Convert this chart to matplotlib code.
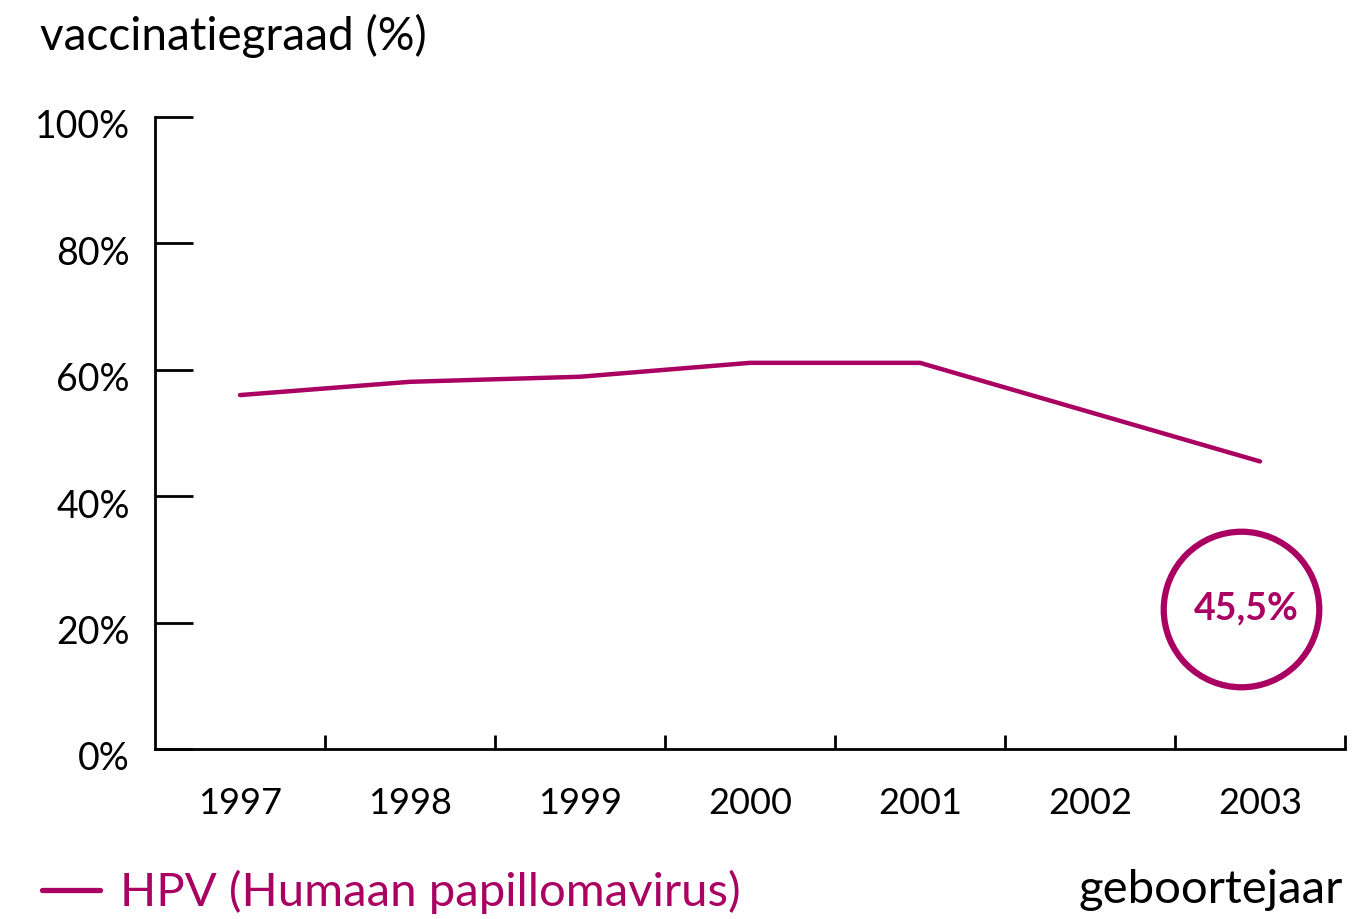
"""HPV vaccinatiegraad per geboortejaar."""
import matplotlib
matplotlib.use("Agg")
import matplotlib.pyplot as plt
from matplotlib.transforms import ScaledTranslation

plt.rcParams['font.family'] = ['Lato', 'DejaVu Sans']

# Data
YEARS = ['1997', '1998', '1999', '2000', '2001', '2002', '2003']
HPV = [56.0, 58.1, 58.9, 61.1, 61.1, 53.3, 45.5]
Y_TICKS = [0, 20, 40, 60, 80, 100]
Y_LABELS = ['0%', '20%', '40%', '60%', '80%', '100%']

VIOLET = '#a90061'
W, H = 1358, 919

fig = plt.figure(figsize=(W / 100, H / 100), dpi=100)
ax = fig.add_axes([155 / W, (H - 749) / H, 1190 / W, 632 / H])

xs = list(range(len(YEARS)))
ax.plot(xs, HPV, color=VIOLET, lw=3.2, solid_capstyle='round',
        label='HPV (Humaan papillomavirus)')

ax.set_xlim(-0.5, len(YEARS) - 0.5)
ax.set_ylim(0, 100)

for side in ('top', 'right'):
    ax.spines[side].set_visible(False)
for side in ('left', 'bottom'):
    ax.spines[side].set_linewidth(2)

ax.set_yticks(Y_TICKS)
ax.set_yticklabels(Y_LABELS)
ax.tick_params(axis='y', direction='in', length=27, width=2, pad=18,
               labelsize=27)
# labels sit a bit below their tick, like in the original
shift = ScaledTranslation(0, -7 / 100, fig.dpi_scale_trans)
for lab in ax.get_yticklabels():
    lab.set_transform(lab.get_transform() + shift)

# year labels centered, tick marks on the category boundaries
ax.set_xticks(xs)
ax.set_xticklabels(YEARS)
ax.tick_params(axis='x', which='major', length=0, pad=27, labelsize=26)
ax.set_xticks([x + 0.5 for x in xs], minor=True)
ax.tick_params(axis='x', which='minor', direction='in', length=10, width=2)

# highlight of the last value
last = len(YEARS) - 1
ax.plot(last - 0.11, 22.2, marker='o', markersize=112, markerfacecolor='none',
        markeredgecolor=VIOLET, markeredgewidth=4.5, clip_on=False)
ax.text(last - 0.08, 22.2, f"{HPV[-1]:.1f}%".replace('.', ','),
        color=VIOLET, fontsize=27, fontweight='bold', ha='center', va='center')

fig.text(40 / W, 1 - 36 / H, 'vaccinatiegraad (%)', fontsize=33,
         ha='left', va='center')
fig.text(1343 / W, 1 - 890 / H, 'geboortejaar', fontsize=34,
         ha='right', va='center')

leg = fig.legend(loc='center left', bbox_to_anchor=(42 / W, 1 - 892 / H),
                 frameon=False, fontsize=34, labelcolor=VIOLET,
                 borderaxespad=0, borderpad=0,
                 handlelength=1.23, handletextpad=0.42)
for line in leg.get_lines():
    line.set_linewidth(3.8)

fig.savefig('out.png', dpi=100)
